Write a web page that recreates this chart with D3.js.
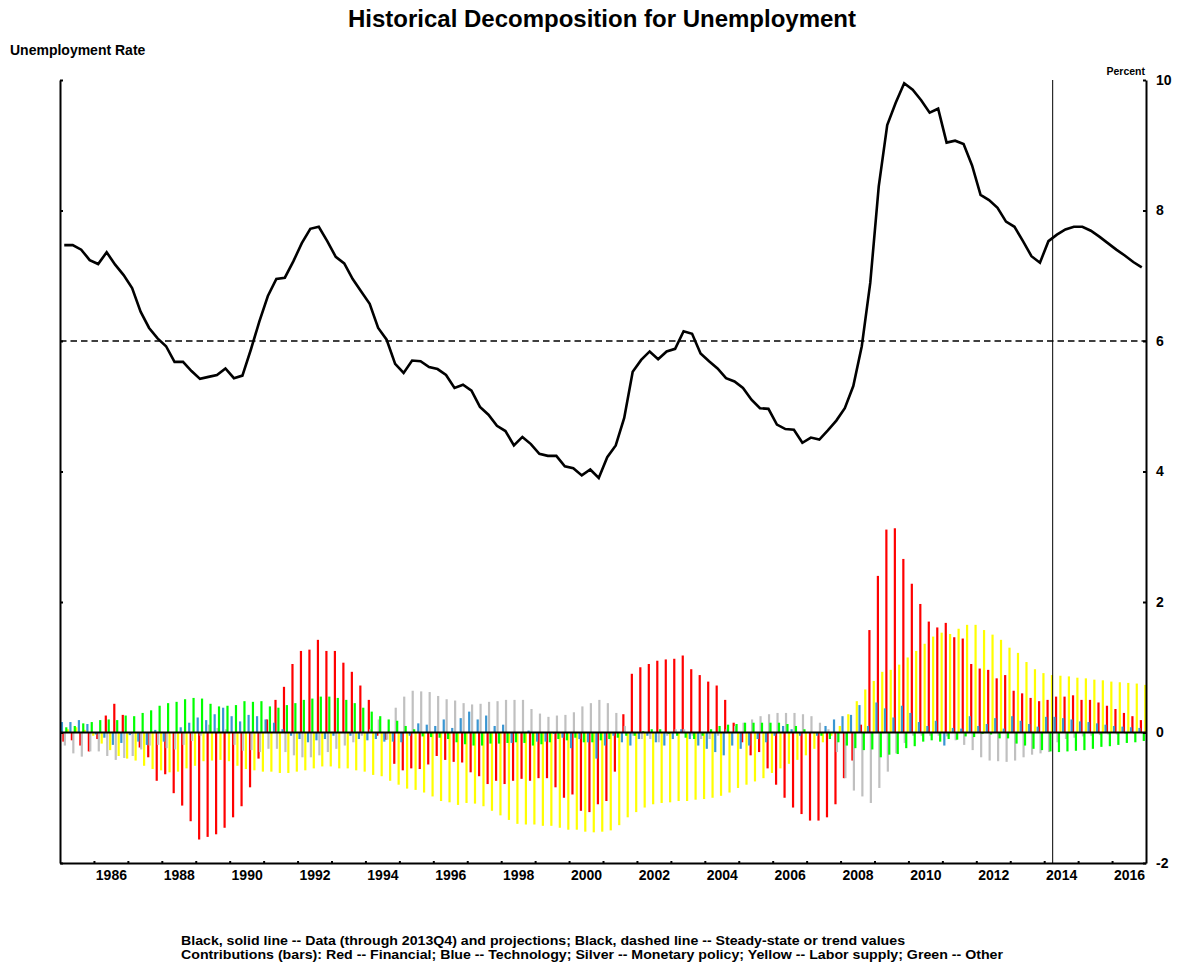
<!DOCTYPE html>
<html>
<head>
<meta charset="utf-8">
<script src="https://d3js.org/d3.v7.min.js"></script>
<title>Historical Decomposition for Unemployment</title>
<style>
  body { margin: 0; background: #fff; }
  svg text { font-family: "Liberation Sans", Arial, Helvetica, sans-serif; font-weight: bold; fill: #000; }
  .axis path, .axis line { stroke: #000; stroke-width: 2; }
</style>
</head>
<body>
<div id="chart"></div>
<script>
// quarterly sample, first quarter 1985Q1
const startYear = 1985;
const lastDataIndex = 116;   // marker drawn after this quarter

const yearTicks = d3.range(1986, 2017);
const yearLabels = [1986, 1988, 1990, 1992, 1994, 1996, 1998, 2000, 2002, 2004, 2006, 2008, 2010, 2012, 2014, 2016];
const rateTicks = [-2, 0, 2, 4, 6, 8, 10];
const steadyState = 6;

const unemployment = [7.47,7.47,7.40,7.24,7.18,7.36,7.17,7.01,6.81,6.45,
  6.20,6.04,5.92,5.68,5.68,5.54,5.42,5.45,5.48,5.58,
  5.43,5.47,5.87,6.30,6.69,6.95,6.97,7.22,7.50,7.72,
  7.75,7.53,7.29,7.19,6.95,6.76,6.57,6.20,6.02,5.65,
  5.51,5.70,5.69,5.60,5.57,5.48,5.28,5.33,5.24,4.99,
  4.87,4.70,4.62,4.40,4.53,4.42,4.27,4.24,4.24,4.08,
  4.05,3.94,4.03,3.90,4.22,4.40,4.82,5.53,5.71,5.84,
  5.72,5.84,5.88,6.15,6.11,5.81,5.69,5.58,5.43,5.38,
  5.28,5.10,4.97,4.96,4.72,4.65,4.64,4.44,4.52,4.49,
  4.63,4.78,4.97,5.31,5.92,6.89,8.37,9.31,9.65,9.95,
  9.85,9.69,9.50,9.56,9.04,9.07,9.02,8.69,8.24,8.16,
  8.04,7.83,7.75,7.53,7.30,7.20,7.53,7.63,7.71,7.75,
  7.75,7.69,7.60,7.50,7.40,7.31,7.21,7.13];

const financial = [-0.14,-0.12,-0.2,-0.29,-0.1,0.26,0.44,0.27,-0.02,-0.23,
  -0.38,-0.74,-0.64,-0.93,-1.12,-1.36,-1.64,-1.6,-1.56,-1.46,
  -1.3,-1.13,-0.84,-0.4,0.2,0.5,0.7,1.05,1.25,1.27,
  1.42,1.25,1.25,1.07,0.93,0.72,0.5,-0.05,-0.11,-0.48,
  -0.58,-0.55,-0.56,-0.49,-0.36,-0.42,-0.45,-0.46,-0.61,-0.67,
  -0.79,-0.74,-0.79,-0.74,-0.71,-0.74,-0.7,-0.7,-0.84,-1.0,
  -0.95,-1.2,-1.22,-1.1,-1.05,-0.6,0.28,0.9,1.0,1.05,
  1.1,1.12,1.13,1.18,0.97,0.88,0.78,0.72,0.5,0.15,
  -0.15,-0.35,-0.3,-0.55,-0.8,-1.0,-1.15,-1.25,-1.35,-1.35,
  -1.3,-1.1,-0.7,-0.43,0.12,1.57,2.40,3.11,3.13,2.66,
  2.28,1.97,1.70,1.61,1.68,1.46,1.44,1.05,0.98,0.96,
  0.83,0.88,0.64,0.60,0.53,0.48,0.50,0.55,0.55,0.57,
  0.5,0.5,0.46,0.41,0.36,0.3,0.25,0.19];

const technology = [0.16,0.16,0.19,0.13,-0.03,-0.08,-0.19,-0.16,-0.04,-0.14,
  -0.19,0.04,-0.14,0.0,0.08,0.15,0.23,0.19,0.28,0.38,
  0.25,0.17,0.27,0.25,0.2,0.15,0.05,-0.05,-0.1,-0.15,
  -0.12,-0.1,-0.05,0.0,-0.05,-0.1,-0.12,-0.1,-0.14,-0.14,
  -0.15,-0.05,0.14,0.12,0.1,0.2,0.07,0.22,0.32,0.2,
  0.26,0.1,0.12,-0.16,0.0,0.03,-0.14,-0.14,-0.02,-0.08,
  -0.24,-0.1,-0.15,-0.4,-0.2,-0.05,-0.15,-0.2,-0.1,-0.05,
  -0.15,-0.2,-0.1,0.05,-0.1,-0.2,-0.25,-0.3,-0.35,-0.2,
  -0.25,-0.2,-0.1,-0.15,-0.05,0.1,0.05,-0.05,0.0,-0.05,
  0.1,0.2,0.25,0.27,0.42,0.1,0.46,0.37,0.23,0.41,
  0.3,0.16,0.1,0.18,-0.2,0.07,0.06,0.25,0.1,0.13,
  0.22,0.06,0.25,0.18,0.13,0.09,0.24,0.24,0.22,0.2,
  0.17,0.16,0.14,0.12,0.1,0.09,0.08,0.07];

const monetary = [-0.2,-0.32,-0.37,-0.29,-0.29,-0.36,-0.42,-0.39,-0.36,-0.26,
  -0.2,-0.19,-0.24,-0.26,-0.19,-0.13,-0.05,0.12,0.07,0.05,
  -0.19,-0.28,-0.27,-0.3,-0.25,-0.25,-0.3,-0.35,-0.38,-0.38,
  -0.35,-0.3,-0.25,-0.2,-0.15,-0.05,0.05,0.2,-0.11,0.38,
  0.55,0.64,0.63,0.62,0.56,0.51,0.49,0.45,0.43,0.44,
  0.47,0.48,0.5,0.5,0.5,0.36,0.29,0.24,0.26,0.27,
  0.31,0.4,0.45,0.5,0.45,0.3,0.1,-0.05,-0.1,-0.1,
  -0.15,-0.05,0.05,0.05,-0.05,-0.1,-0.1,-0.05,0.05,0.1,
  0.15,0.2,0.25,0.28,0.3,0.3,0.3,0.28,0.25,0.15,
  0.05,-0.3,-0.7,-0.89,-0.98,-1.08,-0.85,-0.6,-0.32,-0.16,
  -0.05,-0.05,-0.05,-0.05,-0.06,-0.12,-0.19,-0.27,-0.38,-0.43,
  -0.44,-0.45,-0.43,-0.38,-0.34,-0.32,-0.3,-0.15,-0.1,-0.08,
  -0.06,-0.05,-0.04,-0.03,-0.03,-0.02,-0.02,-0.02];

const laborSupply = [0.05,0.08,0.04,-0.05,-0.17,-0.27,-0.36,-0.4,-0.43,-0.51,
  -0.56,-0.58,-0.61,-0.6,-0.55,-0.51,-0.44,-0.43,-0.42,-0.44,
  -0.51,-0.56,-0.58,-0.6,-0.6,-0.62,-0.62,-0.6,-0.58,-0.55,
  -0.52,-0.52,-0.55,-0.55,-0.58,-0.6,-0.65,-0.67,-0.74,-0.8,
  -0.86,-0.88,-0.92,-0.98,-1.05,-1.07,-1.11,-1.08,-1.09,-1.13,
  -1.2,-1.27,-1.34,-1.4,-1.41,-1.41,-1.43,-1.43,-1.46,-1.49,
  -1.49,-1.52,-1.53,-1.52,-1.5,-1.42,-1.3,-1.22,-1.15,-1.1,
  -1.08,-1.07,-1.05,-1.05,-1.03,-1.02,-1.0,-0.97,-0.92,-0.85,
  -0.8,-0.75,-0.7,-0.62,-0.55,-0.48,-0.42,-0.35,-0.25,-0.15,
  -0.05,0.1,0.28,0.48,0.66,0.79,0.93,0.96,1.04,1.15,
  1.25,1.36,1.47,1.53,1.51,1.59,1.65,1.65,1.57,1.50,
  1.42,1.30,1.22,1.08,0.97,0.91,0.88,0.87,0.86,0.84,
  0.83,0.81,0.8,0.78,0.77,0.76,0.75,0.73];

const other = [0.08,0.1,0.14,0.16,0.19,0.2,0.19,0.26,0.25,0.3,
  0.34,0.41,0.45,0.47,0.51,0.53,0.52,0.44,0.4,0.41,
  0.42,0.48,0.47,0.48,0.4,0.38,0.42,0.45,0.5,0.52,
  0.55,0.55,0.53,0.5,0.45,0.38,0.32,0.25,0.2,0.18,
  0.1,0.05,-0.06,-0.07,-0.08,-0.1,-0.15,-0.18,-0.2,-0.2,
  -0.17,-0.17,-0.16,-0.15,-0.16,-0.2,-0.18,-0.15,-0.1,-0.12,
  -0.08,-0.15,-0.15,-0.12,-0.1,-0.08,-0.05,-0.05,0.02,0.05,
  0.05,-0.02,-0.05,-0.08,-0.1,-0.05,0.05,0.1,0.12,0.13,
  0.15,0.15,0.15,0.15,0.15,0.13,0.1,0.05,0.0,-0.05,
  -0.1,-0.15,-0.2,-0.24,-0.27,-0.26,-0.38,-0.34,-0.33,-0.24,
  -0.21,-0.14,-0.12,-0.14,-0.1,-0.11,-0.06,-0.07,-0.02,-0.03,
  -0.09,-0.09,-0.17,-0.2,-0.25,-0.27,-0.29,-0.3,-0.29,-0.28,
  -0.27,-0.25,-0.22,-0.21,-0.19,-0.16,-0.15,-0.13];

// series in side-by-side order inside each quarter
const series = [
  {name: "Technology", color: "#3a96d2", values: technology},
  {name: "Financial", color: "#ff0000", values: financial},
  {name: "Monetary policy", color: "#c0c0c0", values: monetary},
  {name: "Other", color: "#00ff00", values: other},
  {name: "Labor supply", color: "#ffff00", values: laborSupply}
];
const drawOrder = ["Financial", "Technology", "Monetary policy", "Labor supply", "Other"];

const W = 1183, H = 966;
const plot = {left: 60, right: 1146, top: 80, bottom: 863};

const svg = d3.select("#chart").append("svg")
  .attr("width", W).attr("height", H);

const x = d3.scaleLinear().domain([startYear, 2017]).range([plot.left, plot.right]);
const y = d3.scaleLinear().domain([-2, 10]).range([plot.bottom, plot.top]);
const offset = d3.scalePoint().domain(series.map(s => s.name)).range([-2.3, 3.5]);

const qx = i => x(startYear + (i + 0.5) / 4);
const barW = 2.2;

// bars
drawOrder.forEach(name => {
  const s = series.find(d => d.name === name);
  svg.append("g").selectAll("rect")
    .data(s.values)
    .join("rect")
    .attr("x", (d, i) => qx(i) + offset(name) - barW / 2)
    .attr("width", barW)
    .attr("y", d => y(Math.max(d, 0)))
    .attr("height", d => Math.abs(y(d) - y(0)))
    .attr("fill", s.color);
});

// zero line
svg.append("line")
  .attr("x1", plot.left).attr("x2", plot.right)
  .attr("y1", y(0)).attr("y2", y(0))
  .attr("stroke", "#000").attr("stroke-width", 2.2);

// steady state
svg.append("line")
  .attr("x1", plot.left).attr("x2", plot.right)
  .attr("y1", y(steadyState)).attr("y2", y(steadyState))
  .attr("stroke", "#000").attr("stroke-width", 1.6)
  .attr("stroke-dasharray", "6.5,4");

// end of data marker
const xm = x(startYear + (lastDataIndex + 1) / 4);
svg.append("line")
  .attr("x1", xm).attr("x2", xm)
  .attr("y1", plot.top).attr("y2", plot.bottom)
  .attr("stroke", "#000").attr("stroke-width", 1);

// unemployment rate
const line = d3.line().x((d, i) => qx(i)).y(d => y(d));
svg.append("path")
  .datum(unemployment)
  .attr("d", line)
  .attr("fill", "none")
  .attr("stroke", "#000")
  .attr("stroke-width", 2.6)
  .attr("stroke-linejoin", "miter");

// axes
svg.append("g").attr("class", "axis")
  .attr("transform", `translate(0,${plot.bottom})`)
  .call(d3.axisBottom(x).tickValues(yearTicks).tickSize(-2).tickSizeOuter(0).tickFormat(""));

svg.append("g").attr("class", "axis labels")
  .attr("transform", `translate(0,${plot.bottom})`)
  .call(d3.axisBottom(x).tickValues(yearLabels.map(d => d + 0.5)).tickSize(0).tickPadding(7)
    .tickFormat(d => Math.floor(d)))
  .call(g => g.select(".domain").remove())
  .selectAll("text").style("font-size", "14px");

svg.append("g").attr("class", "axis")
  .attr("transform", `translate(${plot.left},0)`)
  .call(d3.axisLeft(y).tickValues(rateTicks).tickSize(-3).tickSizeOuter(0).tickFormat(""));

svg.append("g").attr("class", "axis")
  .attr("transform", `translate(${plot.right},0)`)
  .call(d3.axisRight(y).tickValues(rateTicks).tickSize(-3).tickSizeOuter(0).tickPadding(10)
    .tickFormat(d => String(d)))
  .selectAll("text").style("font-size", "14px");

svg.selectAll(".axis text").attr("fill", "#000");

// titles
svg.append("text")
  .attr("x", 602).attr("y", 27)
  .attr("text-anchor", "middle")
  .style("font-size", "24px")
  .text("Historical Decomposition for Unemployment");

svg.append("text")
  .attr("x", 10).attr("y", 55)
  .style("font-size", "14px")
  .text("Unemployment Rate");

svg.append("text")
  .attr("x", plot.right - 1).attr("y", 75)
  .attr("text-anchor", "end")
  .style("font-size", "10.5px")
  .text("Percent");

const notes = [
  "Black, solid line -- Data (through 2013Q4) and projections; Black, dashed line -- Steady-state or trend values",
  "Contributions (bars): Red -- Financial; Blue -- Technology; Silver -- Monetary policy; Yellow -- Labor supply; Green -- Other"
];
const noteWidths = [724, 822];
svg.append("g").selectAll("text")
  .data(notes)
  .join("text")
  .attr("x", 181)
  .attr("y", (d, i) => 944.5 + i * 14.5)
  .attr("textLength", (d, i) => noteWidths[i])
  .attr("lengthAdjust", "spacingAndGlyphs")
  .style("font-size", "12.5px")
  .text(d => d);
</script>
</body>
</html>
